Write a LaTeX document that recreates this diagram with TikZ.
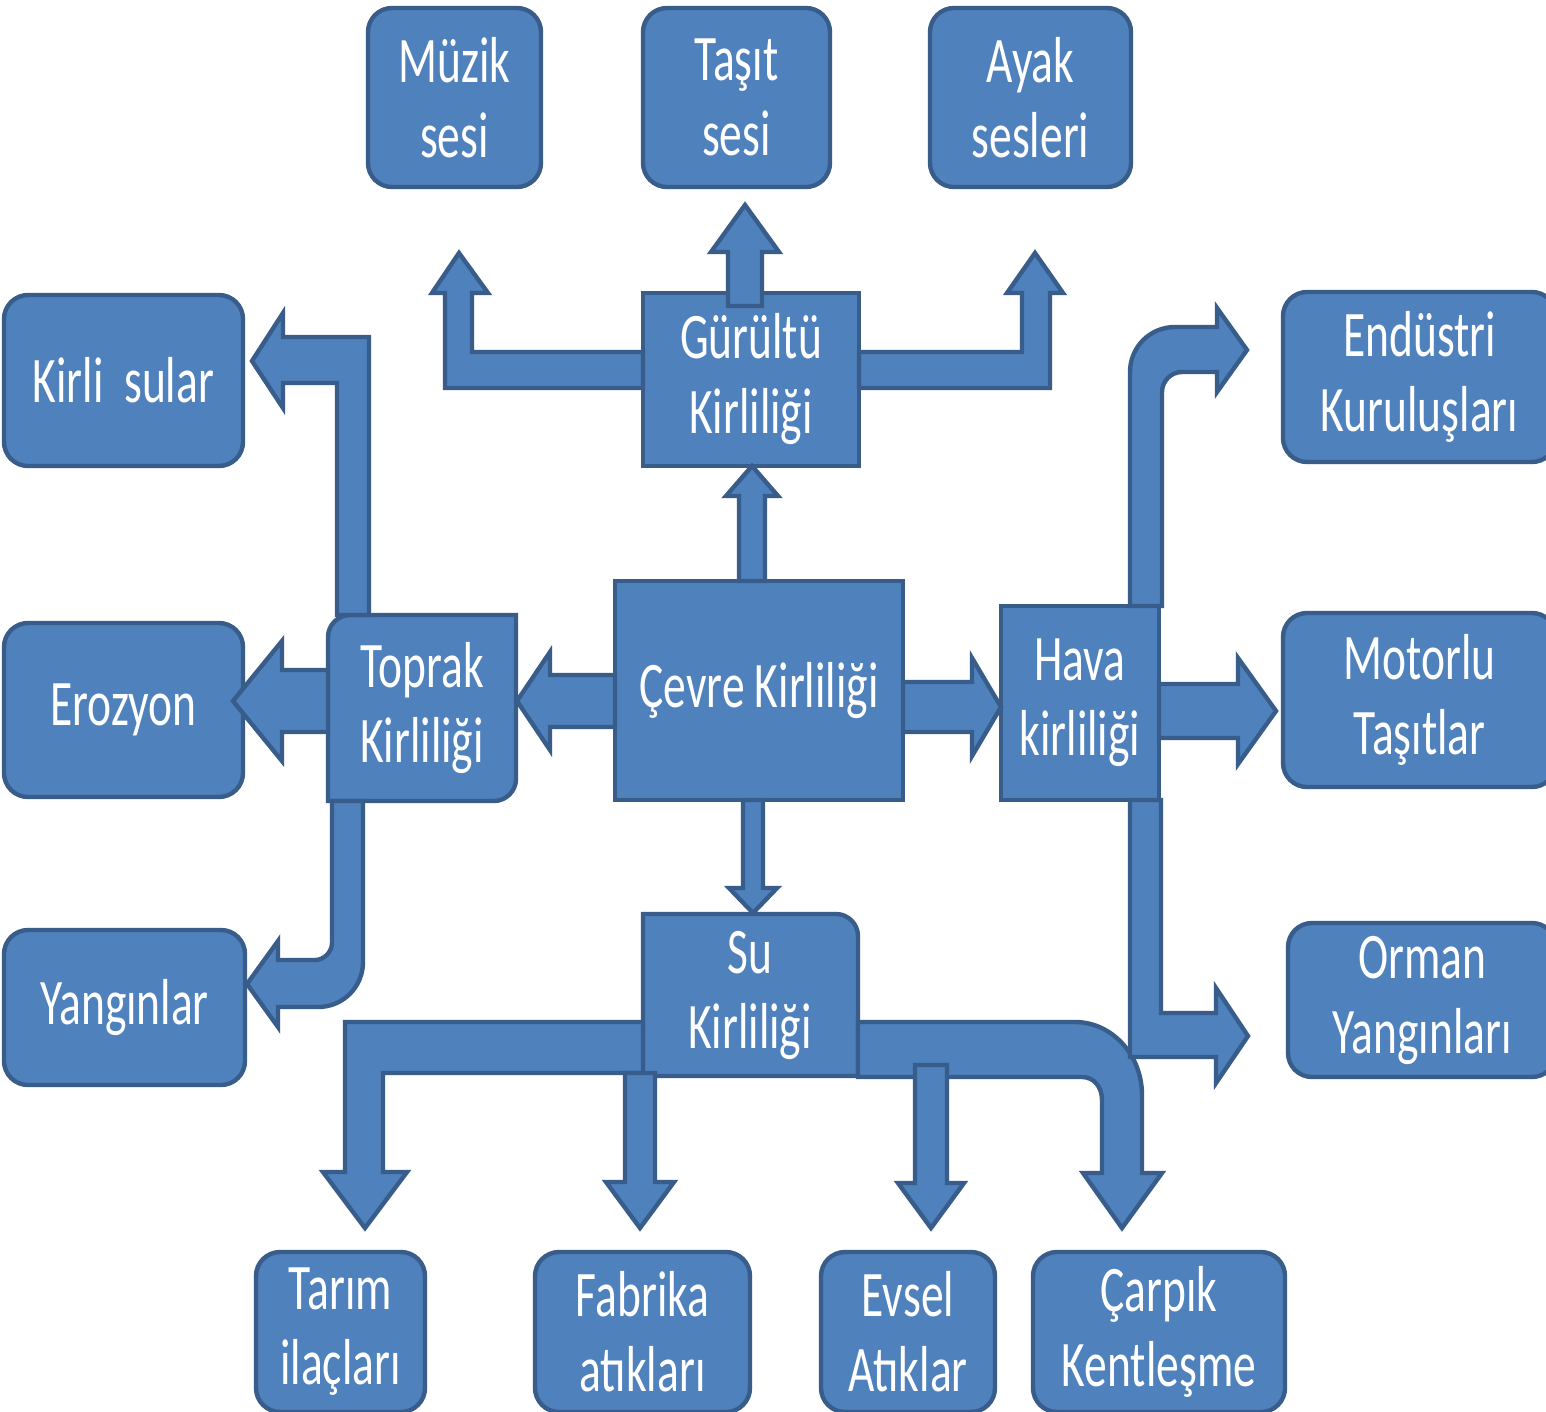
\documentclass[tikz,border=0pt]{standalone}
\usepackage{fontspec}
\setmainfont{Carlito}[FakeStretch=0.7]
\usepackage{tikz}
\definecolor{mavi}{HTML}{4F81BD}
\definecolor{kenar}{HTML}{385D8A}
\tikzset{
  kutuline/.style={draw=kenar, fill=mavi, line width=2.2pt, rounded corners=12pt},
  karelin/.style={draw=kenar, fill=mavi, line width=2.2pt},
  yazi/.style={text=white, align=center, inner sep=0pt, font=\fontsize{32.5}{37.5}\selectfont},
  blokok/.style={draw=kenar, fill=mavi, line width=2.2pt, line join=miter}
}
\newcommand{\kutu}[6]{\draw[kutuline] ( #1 , #2 ) rectangle ( #3 , #4 ); \node[yazi] (#5) at ( {(#1+#3)/2} , {(#2+#4)/2} ) {#6};}
\newcommand{\kare}[6]{\draw[karelin] ( #1 , #2 ) rectangle ( #3 , #4 ); \node[yazi] (#5) at ( {(#1+#3)/2} , {(#2+#4)/2} ) {#6};}
\newcommand{\okV}[6]{\draw[blokok] ( {#1-#5} , #2 ) -- ( {#1-#5} , #3 ) -- ( {#1-#6} , #3 ) -- ( #1 , #4 ) -- ( {#1+#6} , #3 ) -- ( {#1+#5} , #3 ) -- ( {#1+#5} , #2 ) -- cycle;}
\newcommand{\okH}[6]{\draw[blokok] ( #2 , {#1-#5} ) -- ( #3 , {#1-#5} ) -- ( #3 , {#1-#6} ) -- ( #4 , #1 ) -- ( #3 , {#1+#6} ) -- ( #3 , {#1+#5} ) -- ( #2 , {#1+#5} ) -- cycle;}
\begin{document}
\begin{tikzpicture}[x=0.5pt,y=-0.5pt]
        \useasboundingbox (0,0) rectangle (1546,1412);
        \fill[white] (0,0) rectangle (1546,1412);

        % top row
        \kutu{368}{8}{541}{187}{muzik}{Müzik\\sesi}
        \kutu{643}{8}{830}{187}{tasit}{Taşıt\\sesi}
        \kutu{930}{8}{1131}{187}{ayak}{Ayak\\sesleri}

        % second row
        \kutu{4}{295}{243}{466}{kirli}{Kirli\ \ sular}
        \kare{643}{293}{859}{466}{gurultu}{Gürültü\\Kirliliği}
        \kutu{1283}{292}{1556}{462}{endustri}{Endüstri\\Kuruluşları}

        % middle row
        \kutu{4}{623}{243}{797}{erozyon}{Erozyon}
        \draw[karelin] (328,801) -- (328,637) .. controls (328,625) and (338,615) .. (350,615) -- (516,615) -- (516,779) .. controls (516,791) and (506,801) .. (494,801) -- cycle;
        \node[yazi] (toprak) at (422,708) {Toprak\\Kirliliği};
        \kare{615}{581}{903}{800}{cevre}{Çevre Kirliliği}
        \kare{1001}{606}{1159}{800}{hava}{Hava\\kirliliği}
        \kutu{1283}{613}{1556}{787}{motorlu}{Motorlu\\Taşıtlar}

        % fourth row
        \kutu{4}{930}{245}{1085}{yanginlar}{Yangınlar}
        \draw[karelin] (643,1076) -- (643,914) -- (836,914) .. controls (848,914) and (858,924) .. (858,936) -- (858,1076) -- cycle;
        \node[yazi] (su) at (750,995) {Su\\Kirliliği};
        \kutu{1288}{923}{1556}{1077}{orman}{Orman\\Yangınları}

        % bottom row
        \kutu{256}{1252}{425}{1412}{tarim}{Tarım\\ilaçları}
        \kutu{535}{1252}{750}{1412}{fabrika}{Fabrika\\atıkları}
        \kutu{821}{1252}{995}{1412}{evsel}{Evsel\\Atıklar}
        \kutu{1033}{1252}{1285}{1412}{carpik}{Çarpık\\Kentleşme}

        % straight arrows
        \okV{752}{581}{496}{466}{13}{26}
        \okV{745}{306}{252}{205}{17}{34}
        \okV{753}{800}{888}{913}{10}{24}
        \okH{701}{328}{282}{233}{31}{60}
        \okH{701}{615}{550}{517}{26}{49}
        \okH{707}{903}{972}{1001}{25}{49}
        \okH{711}{1159}{1238}{1276}{27}{53}

        % bent arrows from gurultu
        \draw[blokok] (643,352) -- (472,352) -- (472,293) -- (488,293) -- (459,253) -- (432,293) -- (445,293) -- (445,388) -- (643,388) -- cycle;
        \draw[blokok] (859,352) -- (1022,352) -- (1022,293) -- (1007,293) -- (1035,253) -- (1063,293) -- (1050,293) -- (1050,388) -- (859,388) -- cycle;

        % bent arrows from toprak
        \draw[blokok] (337,615) -- (337,383) -- (283,383) -- (283,408) -- (252,361) -- (283,313) -- (283,337) -- (369,337) -- (369,615) -- cycle;
        \draw[blokok] (332,801) -- (332,943) .. controls (332,952) and (324,960) .. (315,960) -- (278,960) -- (278,941) -- (247,984) -- (278,1027) -- (278,1007) -- (318,1007) .. controls (343,1007) and (363,987) .. (363,962) -- (363,801) -- cycle;

        % bent arrows from hava
        \draw[blokok] (1130,606) -- (1130,372) .. controls (1130,347) and (1150,327) .. (1175,327) -- (1217,327) -- (1217,308) -- (1247,350) -- (1217,392) -- (1217,372) -- (1182,372) .. controls (1171,372) and (1162,381) .. (1162,392) -- (1162,606) -- cycle;

        % bent arrows from su
        \draw[blokok] (643,1022) -- (345,1022) -- (345,1172) -- (323,1172) -- (365,1228) -- (407,1172) -- (383,1172) -- (383,1073) -- (643,1073) -- cycle;
        \okV{640}{1073}{1182}{1228}{15}{34}
        \draw[blokok] (858,1022) -- (1075,1022) .. controls (1112,1022) and (1142,1055) .. (1142,1095) -- (1142,1173) -- (1162,1173) -- (1122,1228) -- (1083,1173) -- (1102,1173) -- (1102,1100) .. controls (1102,1087) and (1094,1077) .. (1082,1077) -- (858,1077) -- cycle;
        \okV{931}{1065}{1183}{1228}{16}{33}
        \draw[blokok] (1130,800) -- (1130,1057) -- (1216,1057) -- (1216,1083) -- (1248,1036) -- (1216,988) -- (1216,1013) -- (1161,1013) -- (1161,800) -- cycle;

\end{tikzpicture}
\end{document}
